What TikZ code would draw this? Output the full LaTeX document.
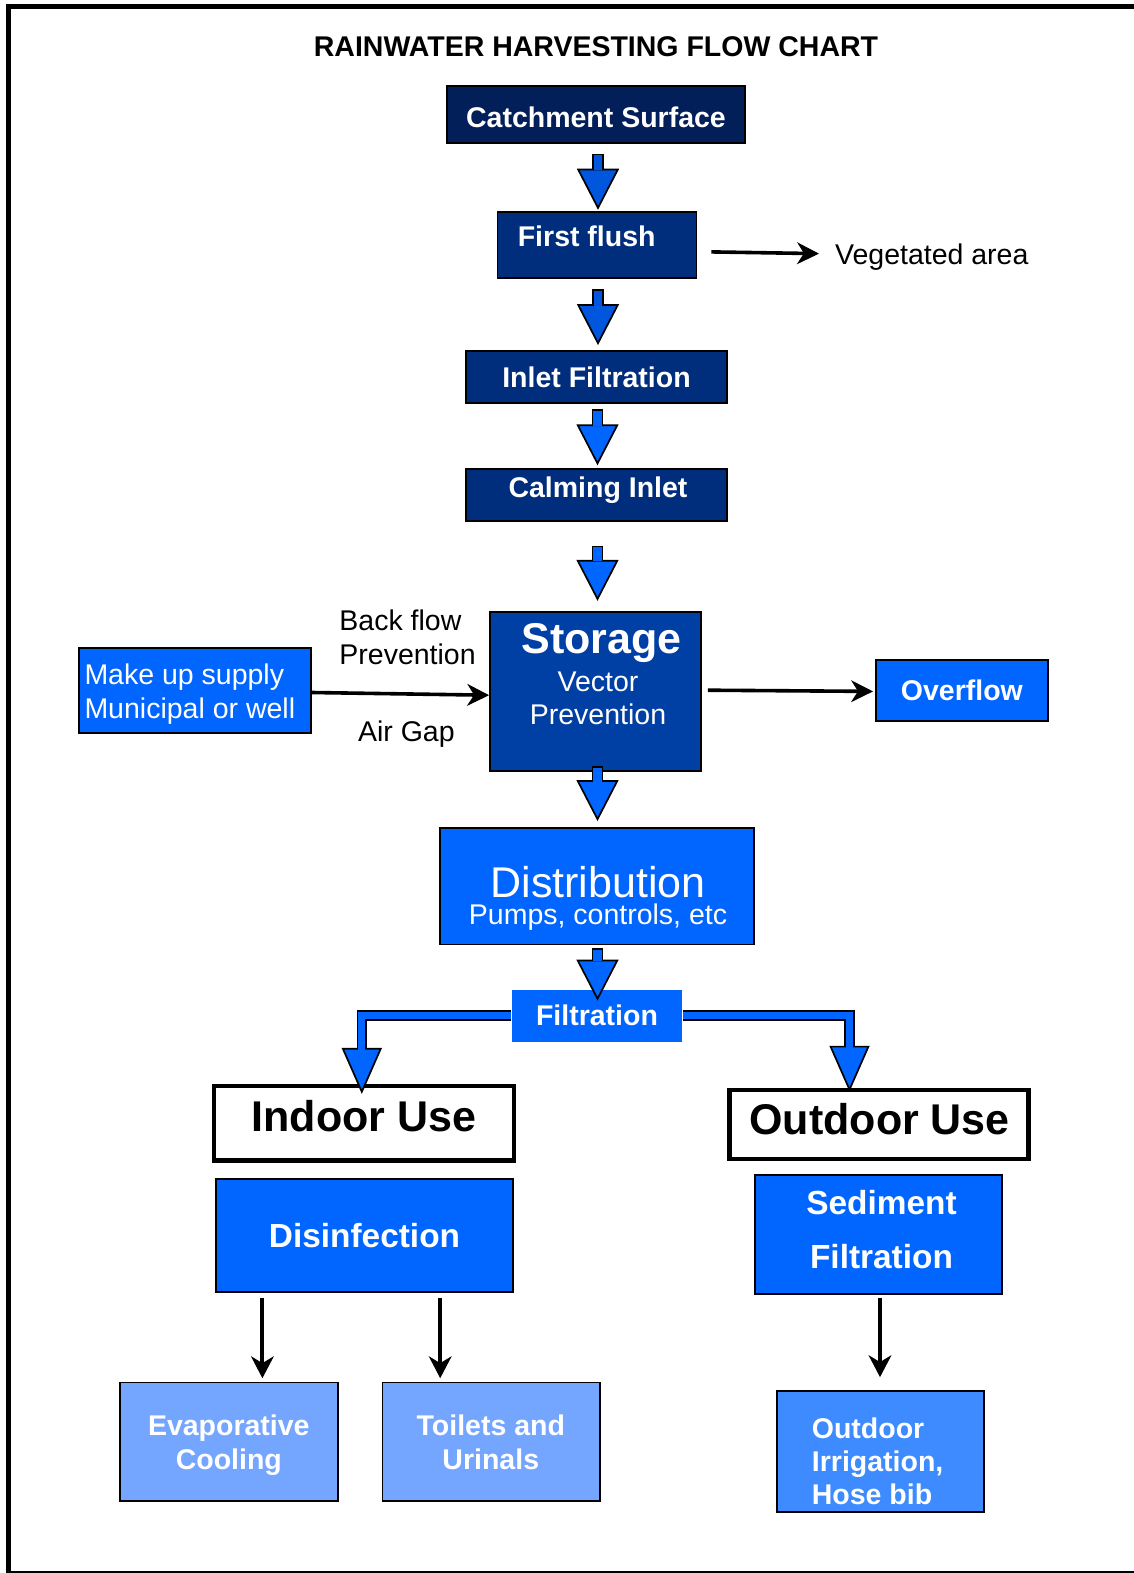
\documentclass[tikz,border=0pt]{standalone}
\usepackage{fontspec}
\setmainfont{Liberation Sans}
\usetikzlibrary{arrows.meta,calc,positioning}

\definecolor{catchnavy}{RGB}{2,31,90}
\definecolor{navy}{RGB}{1,46,124}
\definecolor{tankblue}{RGB}{0,64,164}
\definecolor{brightblue}{RGB}{0,102,255}
\definecolor{paleblue}{RGB}{116,166,255}
\definecolor{midblue}{RGB}{62,139,255}
\definecolor{arrowdark}{RGB}{0,86,220}

\begin{document}
\begin{tikzpicture}[x=1pt,y=-1pt]
\tikzset{
	box/.style={draw=black, line width=1.8pt, inner sep=0pt, text=white, font=\bfseries\fontsize{28.5}{34}\selectfont, text height=20.4pt, text depth=0pt},
	usagebox/.style={draw=black, line width=4.3pt, fill=white, inner sep=0pt},
	lbl/.style={inner sep=0pt, font=\fontsize{28.5}{34}\selectfont},
	captext/.style={text height=20.4pt, text depth=0pt},
	bigcap/.style={text height=30.8pt, text depth=0pt},
	whitebf/.style={text=white, font=\bfseries\fontsize{28.5}{34}\selectfont},
	flow/.style={line width=11.6pt, draw=black, -{Triangle[width=42pt,length=41pt,fill=#1,line width=1.7pt]}, postaction={draw=#1, line width=8.2pt, arrows=-, shorten >=39.5pt, shorten <=1.7pt}},
	flow/.default=brightblue,
	branch/.style={line width=10.5pt, draw=black, line join=miter, -{Triangle[width=40pt,length=46pt,fill=brightblue,line width=1.7pt]}, postaction={draw=brightblue, line width=7.1pt, arrows=-, shorten >=44pt}},
	link/.style={line width=4pt, -{Stealth[length=22pt,width=23pt,inset=7pt,line width=1pt]}},
	thinlink/.style={line width=3.6pt, -{Stealth[length=22pt,width=22pt,inset=7pt,line width=1pt]}}
}
\useasboundingbox (0,0) rectangle (1133,1573);
% frame
\draw[line width=4.6pt] (1140,6.3) -- (8.5,6.3) -- (8.5,1580);
\draw[line width=1.6pt] (8.5,1571.8) -- (1140,1571.8);

\node[lbl,captext,font=\bfseries\fontsize{28.5}{34}\selectfont] (title) at (596,46) {RAINWATER HARVESTING FLOW CHART};

% main chain
\node[box,fill=catchnavy,minimum width=298pt,minimum height=57pt,text height=25.4pt] (catch) at (596,114.5) {Catchment Surface};
\node[box,fill=navy,minimum width=199pt,minimum height=66.5pt] (flush) at (597,244.9) {};
\node[lbl,captext,whitebf] (flushlbl) at (586.7,236) {First flush};
\node[lbl,captext] (veg) at (931.8,253.9) {Vegetated area};
\node[box,fill=navy,minimum width=261pt,minimum height=52pt] (inlet) at (596.5,377) {Inlet Filtration};
\node[box,fill=navy,minimum width=261pt,minimum height=51.6pt] (calm) at (596.5,495) {};
\node[lbl,captext,whitebf] (calmlbl) at (598,487.5) {Calming Inlet};

% storage row
\node[box,fill=tankblue,minimum width=211pt,minimum height=159pt] (storage) at (595.5,691.2) {};
\node[lbl,bigcap,text=white,font=\bfseries\fontsize{43}{50}\selectfont] (storelbl) at (601.5,638) {Storage};
\node[lbl,text=white,align=center,anchor=north,font=\fontsize{28.5}{33}\selectfont] (storesub) at (598,671.3) {Vector\\Prevention};
\node[box,fill=brightblue,minimum width=232pt,minimum height=84.5pt] (makeup) at (195.2,690.5) {};
\node[lbl,text=white,align=left,anchor=north west] (makeuplbl) at (84.3,663.2) {Make up supply\\Municipal or well};
\node[lbl,align=left,anchor=north west] (backflow) at (339.2,610) {Back flow\\Prevention};
\node[lbl,captext] (airgap) at (406.4,731.6) {Air Gap};
\node[box,fill=brightblue,minimum width=172pt,minimum height=60.4pt] (overflow) at (961.9,690.4) {Overflow};

% distribution
\node[box,fill=brightblue,minimum width=313.3pt,minimum height=116.5pt] (dist) at (597,886.2) {};
\node[lbl,bigcap,text=white,font=\fontsize{43}{50}\selectfont] (distlbl) at (598,882) {Distribution};
\node[lbl,captext,text=white] (distsub) at (598,914.5) {Pumps, controls, etc};
\node[box,draw=none,fill=brightblue,minimum width=170pt,minimum height=52.2pt] (filt) at (597,1015.6) {Filtration};

% uses
\node[usagebox,minimum width=300pt,minimum height=74.5pt] (indoor) at (363.8,1123.3) {};
\node[lbl,bigcap,font=\bfseries\fontsize{43}{50}\selectfont] (indoorlbl) at (364,1116) {Indoor Use};
\node[usagebox,minimum width=299pt,minimum height=69pt] (outdoor) at (879,1124.4) {};
\node[lbl,bigcap,font=\bfseries\fontsize{43}{50}\selectfont] (outdoorlbl) at (879.6,1119) {Outdoor Use};
\node[box,fill=brightblue,minimum width=297pt,minimum height=113pt,font=\bfseries\fontsize{33.4}{40}\selectfont,text height=23.9pt] (disinf) at (364.5,1235.3) {Disinfection};
\node[box,fill=brightblue,minimum width=247pt,minimum height=119pt] (sed) at (878.5,1234.5) {};
\node[lbl,text=white,align=center,anchor=north,font=\bfseries\fontsize{33.4}{53.7}\selectfont] (sedlbl) at (881.5,1190) {Sediment\\Filtration};
\node[box,fill=paleblue,minimum width=218pt,minimum height=118.5pt] (evap) at (228.8,1441.8) {};
\node[lbl,text=white,align=center,anchor=north,font=\bfseries\fontsize{28.5}{34}\selectfont] (evaplbl) at (228.8,1414.8) {Evaporative\\Cooling};
\node[box,fill=paleblue,minimum width=217.5pt,minimum height=118.5pt] (toil) at (491.3,1441.8) {};
\node[lbl,text=white,align=center,anchor=north,font=\bfseries\fontsize{28.5}{34}\selectfont] (toillbl) at (490.8,1414.8) {Toilets and\\Urinals};
\node[box,fill=midblue,minimum width=207pt,minimum height=121pt] (irrig) at (880.5,1451.5) {};
\node[lbl,text=white,align=left,anchor=north west,font=\bfseries\fontsize{28.5}{33.3}\selectfont] (irriglbl) at (811.7,1417.3) {Outdoor\\Irrigation,\\Hose bib};

% block arrows
\draw[flow=arrowdark] ($(catch.south)+(2,9.9)$) -- ($(flush.north)+(1,-1)$);
\draw[flow=arrowdark] ($(flush.south)+(1,10)$) -- ($(inlet.north)+(1.5,-5)$);
\draw[flow] ($(inlet.south)+(1,5)$) -- ($(calm.north)+(1,-3)$);
\draw[flow] ($(calm.south)+(1,24)$) -- ($(storage.north)+(2,-10)$);
\draw[flow] ($(storage.south)+(2,-5.7)$) -- ($(dist.north)+(0.5,-6)$);
\draw[branch] (filt.west) -| ($(indoor.north)+(-2,10)$);
\draw[branch] (filt.east) -| ($(outdoor.north)+(-29.5,4)$);
\draw[flow] ($(dist.south)+(0.5,2.5)$) -- ($(filt.north)+(0.5,12)$);

% black arrows
\draw[thinlink,shorten >=16pt] ($(flush.east)+(14,7)$) -- (veg.west);
\draw[thinlink] ($(makeup.east)+(0,2)$) -- ($(storage.west)+(0,4)$);
\draw[thinlink] ($(storage.east)+(6,-1)$) -- ($(overflow.west)+(-2,1)$);
\draw[link,shorten >=3.5pt] ($(disinf.south west)+(47.3,5.5)$) coordinate (d1) -- (d1 |- evap.north);
\draw[link,shorten >=3.5pt] ($(disinf.south east)+(-73.7,5.5)$) coordinate (d2) -- (d2 |- toil.north);
\draw[link] ($(sed.south)+(1.5,3)$) -- ($(irrig.north)+(-0.5,-13)$);
\end{tikzpicture}
\end{document}
